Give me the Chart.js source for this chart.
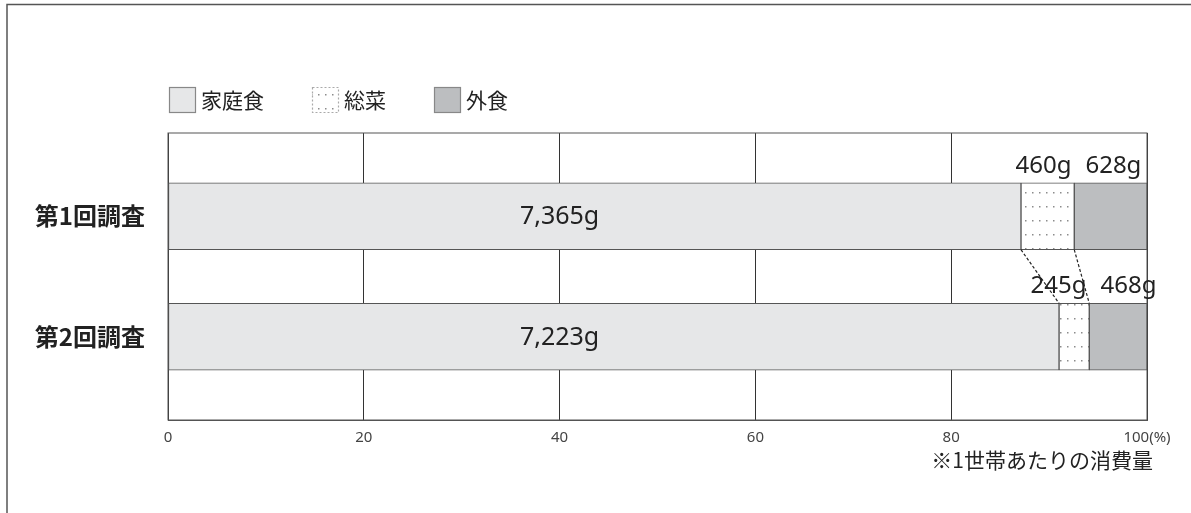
<!DOCTYPE html>
<html lang="ja">
<head>
<meta charset="utf-8">
<title>家庭食・総菜・外食の消費量</title>
<script src="https://cdn.jsdelivr.net/npm/chart.js@4"></script>
<style>
  html, body { margin: 0; padding: 0; background: #fff; }
</style>
</head>
<body>
<canvas id="foodChart" width="1191" height="513"></canvas>
<script>
const categories = ['第1回調査', '第2回調査'];
const seriesNames = ['家庭食', '総菜', '外食'];
const homeGrams = [7365, 7223];
const deliGrams = [460, 245];
const eatOutGrams = [628, 468];
const xTicks = [0, 20, 40, 60, 80, 100];
const xTickLabels = ['0', '20', '40', '60', '80', '100(%)'];
const note = '※1世帯あたりの消費量';

const JP = '"Noto Sans CJK JP", "Noto Sans", sans-serif';
const NUM = '"Noto Sans", "Liberation Sans", sans-serif';
const INK = '#222';
const LINE = '#555';

const canvas = document.getElementById('foodChart');
const ctx = canvas.getContext('2d');

// grams -> share of the household total, one row per survey
const grams = [homeGrams, deliGrams, eatOutGrams];
const totals = homeGrams.map((g, i) => g + deliGrams[i] + eatOutGrams[i]);
const toShare = arr => arr.map((g, i) => ({ x: g / totals[i] * 100, y: i + 1 }));
const gramLabel = g => g.toLocaleString('en-US') + 'g';

function dotPattern() {
  const c = document.createElement('canvas');
  c.width = 7;
  c.height = 14;
  const p = c.getContext('2d');
  p.fillStyle = '#fff';
  p.fillRect(0, 0, 7, 14);
  p.fillStyle = '#8c8c8c';
  p.fillRect(3, 10, 1.5, 1.5);
  return ctx.createPattern(c, 'repeat');
}

const fills = ['#e6e7e8', dotPattern(), '#bcbec0'];

const decorations = {
  id: 'decorations',
  beforeDraw(chart) {
    const c = chart.ctx;
    c.save();
    c.fillStyle = '#fff';
    c.fillRect(0, 0, chart.width, chart.height);
    c.strokeStyle = LINE;
    c.lineWidth = 1.5;
    c.beginPath();
    c.moveTo(7, chart.height + 2);
    c.lineTo(7, 4.5);
    c.lineTo(chart.width + 2, 4.5);
    c.stroke();
    c.restore();
  },
  beforeDatasetsDraw(chart) {
    const a = chart.chartArea;
    const c = chart.ctx;
    c.save();
    c.strokeStyle = LINE;
    c.lineWidth = 1;
    c.strokeRect(a.left, a.top, a.right - a.left, a.bottom - a.top);
    c.restore();
  },
  afterDatasetsDraw(chart) {
    const c = chart.ctx;
    const xs = chart.scales.x;
    const metas = chart.data.datasets.map((_, k) => chart.getDatasetMeta(k));
    c.save();

    // big label inside the 家庭食 segment
    c.fillStyle = INK;
    c.textAlign = 'center';
    c.textBaseline = 'middle';
    c.font = '25px ' + NUM;
    metas[0].data.forEach((bar, i) => {
      c.fillText(gramLabel(homeGrams[i]), xs.getPixelForValue(40), bar.y + 1);
    });

    // small labels above the narrow segments
    c.font = '24px ' + NUM;
    c.textBaseline = 'alphabetic';
    categories.forEach((_, i) => {
      const items = [1, 2].map(k => {
        const bar = metas[k].data[i];
        const text = gramLabel(grams[k][i]);
        return { bar, text, w: c.measureText(text).width, cx: (bar.base + bar.x) / 2 };
      });
      const over = items[0].cx + items[0].w / 2 + 14 - (items[1].cx - items[1].w / 2);
      if (over > 0) {
        items[0].cx -= over * 0.6;
        items[1].cx += over * 0.4;
      }
      items.forEach(it => {
        c.fillText(it.text, it.cx, it.bar.y - it.bar.height / 2 - 10);
      });
    });

    // dashed connectors between the 総菜 segments
    const d = metas[1].data;
    c.strokeStyle = '#222';
    c.lineWidth = 1.2;
    c.setLineDash([3, 2]);
    for (let i = 0; i < d.length - 1; i++) {
      const b1 = d[i], b2 = d[i + 1];
      const y1 = b1.y + b1.height / 2, y2 = b2.y - b2.height / 2;
      c.beginPath();
      c.moveTo(b1.base, y1);
      c.lineTo(b2.base, y2);
      c.moveTo(b1.x, y1);
      c.lineTo(b2.x, y2);
      c.stroke();
    }
    c.restore();
  },
  afterDraw(chart) {
    const c = chart.ctx;
    const a = chart.chartArea;
    c.save();

    // legend
    let x = a.left + 1;
    const cy = 100;
    c.font = '21px ' + JP;
    c.textBaseline = 'middle';
    c.textAlign = 'left';
    chart.data.datasets.forEach((ds, k) => {
      c.fillStyle = ds.backgroundColor;
      c.fillRect(x, cy - 13, 27, 26);
      c.strokeStyle = k === 1 ? '#aaa' : '#888';
      c.setLineDash(k === 1 ? [2, 2] : []);
      c.lineWidth = 1.2;
      c.strokeRect(x + 0.5, cy - 12.5, 26, 25);
      c.setLineDash([]);
      c.fillStyle = INK;
      c.fillText(ds.label, x + 32, cy);
      x += 32 + c.measureText(ds.label).width + 48;
    });

    // note
    c.textAlign = 'right';
    c.fillText(note, a.right + 6, 460);
    c.restore();
  }
};

new Chart(ctx, {
  type: 'bar',
  data: {
    datasets: seriesNames.map((name, k) => ({
      label: name,
      data: toShare(grams[k]),
      backgroundColor: fills[k],
      borderColor: LINE,
      borderWidth: 1,
      borderSkipped: false,
      barThickness: 67
    }))
  },
  options: {
    indexAxis: 'y',
    responsive: false,
    animation: false,
    layout: { padding: { top: 133, right: 44, bottom: 0, left: 0 } },
    plugins: {
      legend: { display: false },
      tooltip: { enabled: false }
    },
    scales: {
      x: {
        type: 'linear',
        stacked: true,
        min: 0,
        max: 100,
        afterBuildTicks: s => { s.ticks = xTicks.map(v => ({ value: v })); },
        afterFit: s => { s.height = 93; },
        ticks: {
          callback: (v, i) => xTickLabels[i],
          font: { family: NUM, size: 15 },
          color: '#444',
          padding: 9,
          maxRotation: 0
        },
        grid: { color: '#333', lineWidth: 1, drawTicks: false },
        border: { color: LINE, width: 1 }
      },
      y: {
        type: 'linear',
        stacked: true,
        reverse: true,
        offset: false,
        min: 0.31,
        max: 2.69,
        afterBuildTicks: s => { s.ticks = categories.map((_, i) => ({ value: i + 1 })); },
        afterFit: s => { s.width = 168; },
        ticks: {
          callback: v => categories[v - 1],
          font: { family: JP, size: 24, weight: 'bold' },
          color: INK,
          padding: 23
        },
        grid: { display: false, drawTicks: false, offset: false },
        border: { display: false }
      }
    }
  },
  plugins: [decorations]
});
</script>
</body>
</html>
